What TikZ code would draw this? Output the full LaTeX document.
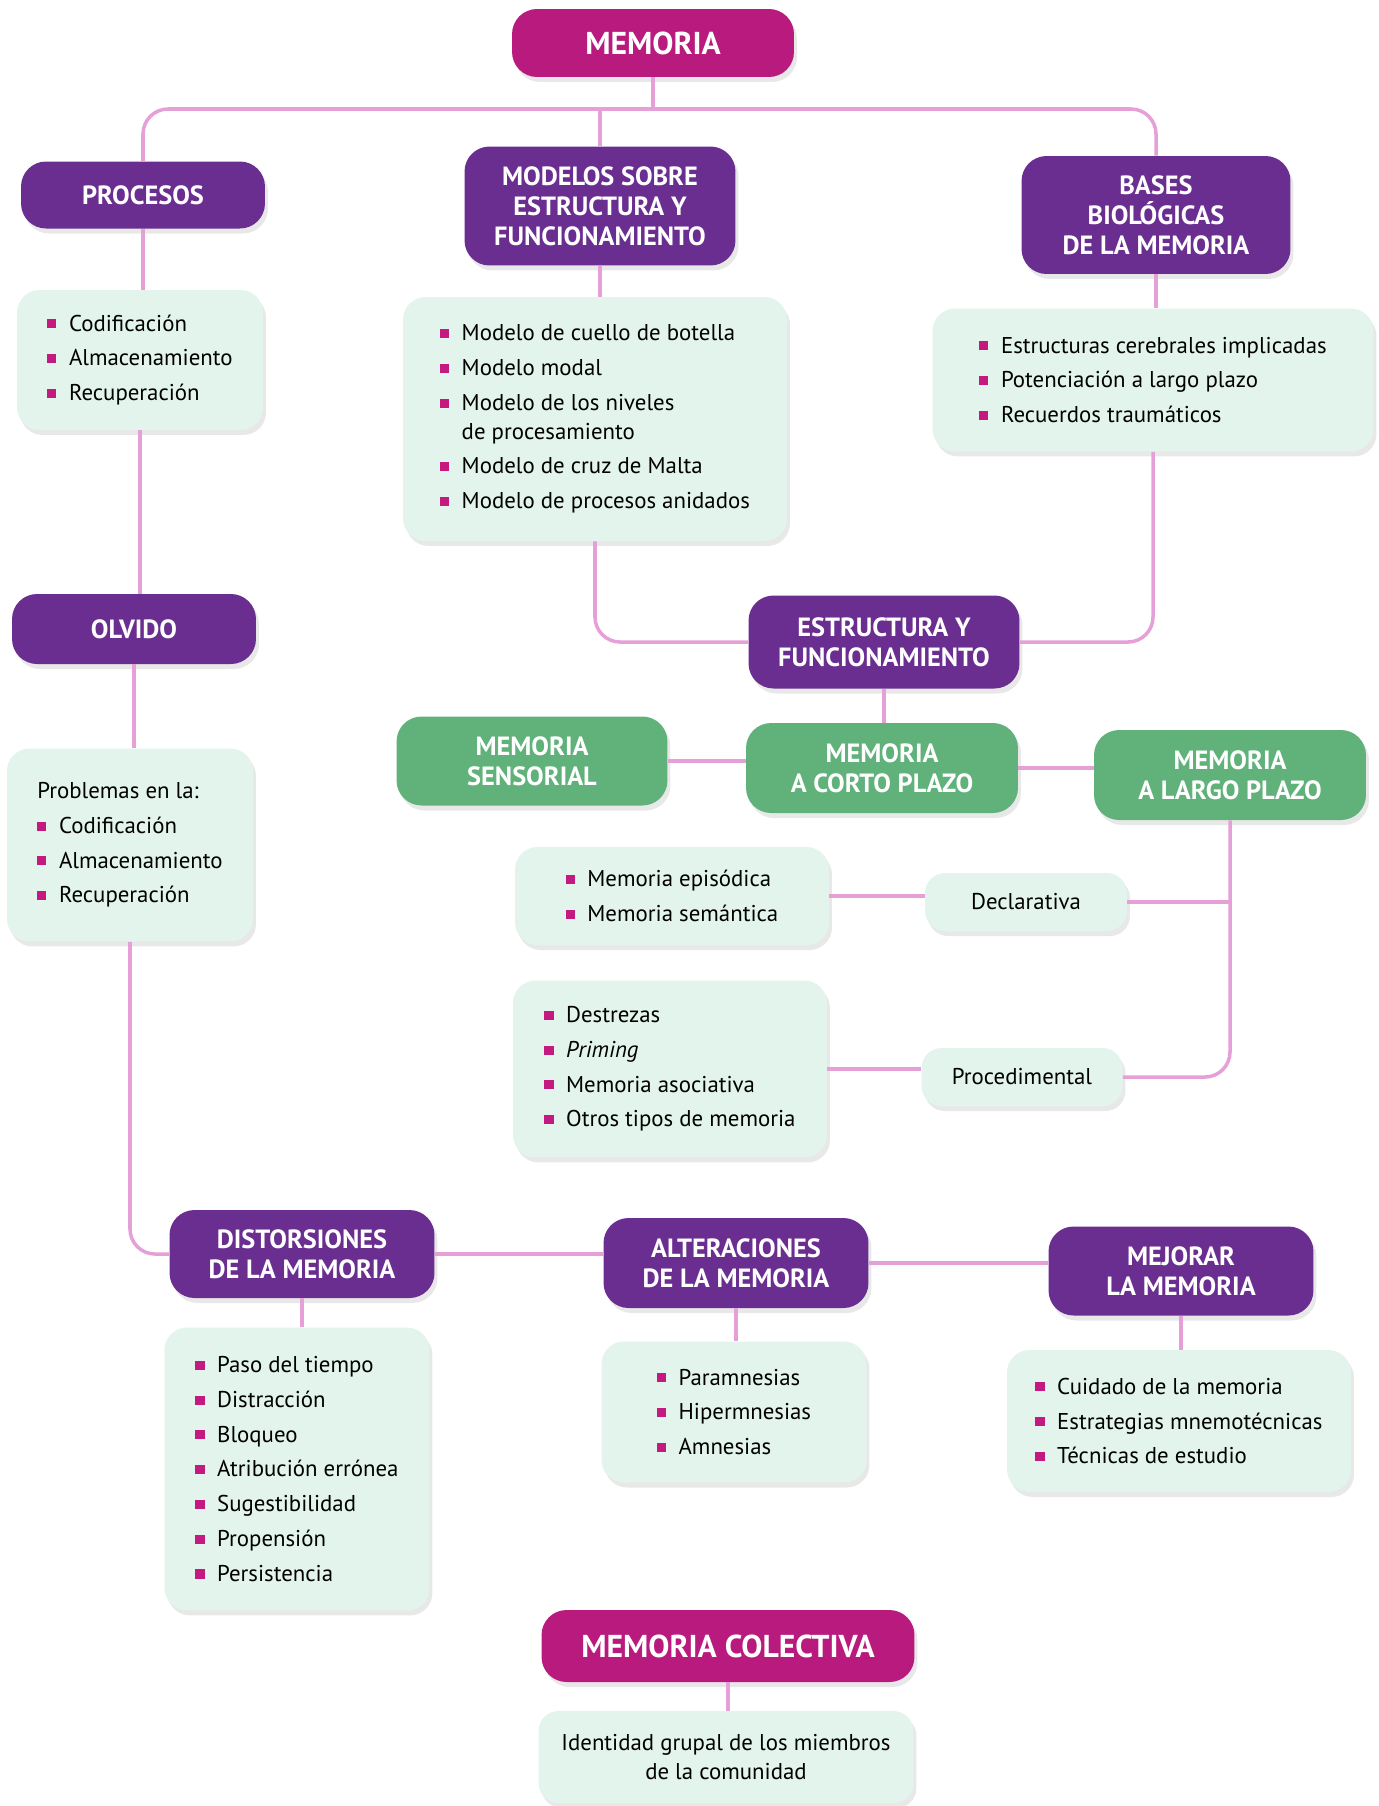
\documentclass[tikz,border=0pt]{standalone}
\usepackage{fontspec}
\setmainfont{PT Sans}
\usetikzlibrary{shadows}

\definecolor{memmag}{RGB}{184,26,126}
\definecolor{mempurple}{RGB}{106,46,145}
\definecolor{memgreen}{RGB}{96,178,122}
\definecolor{memmint}{RGB}{226,244,236}
\definecolor{memlink}{RGB}{230,160,216}
\definecolor{bulletmag}{RGB}{196,25,126}

\newcommand{\bul}{\textcolor{bulletmag}{\rule[0.12em]{0.4em}{0.4em}}\hspace{0.55em}}
\newcommand{\nob}{\phantom{\rule{0.4em}{0.4em}}\hspace{0.55em}}

\begin{document}
\begin{tikzpicture}[x=0.02cm, y=-0.02cm,
    boxshadow/.style={drop shadow={shadow xshift=0.06cm, shadow yshift=-0.1cm, opacity=0.18}},
    topbox/.style={rectangle, rounded corners=0.5cm, fill=memmag, text=white, boxshadow, align=center, font=\fontsize{18}{21}\selectfont\bfseries},
    headbox/.style={rectangle, rounded corners=0.5cm, fill=mempurple, text=white, boxshadow, align=center, font=\fontsize{15}{17}\selectfont\bfseries},
    greenbox/.style={rectangle, rounded corners=0.5cm, fill=memgreen, text=white, boxshadow, align=center, font=\fontsize{15}{17}\selectfont\bfseries},
    listbox/.style={rectangle, rounded corners=0.45cm, fill=memmint, boxshadow, align=left, font=\fontsize{13}{19.8}\selectfont},
    typebox/.style={rectangle, rounded corners=0.4cm, fill=memmint, boxshadow, align=center, font=\fontsize{13}{16}\selectfont},
    link/.style={draw=memlink, line width=2pt, rounded corners=0.5cm}]
    \useasboundingbox (0,0) rectangle (1379,1806);
    \node[topbox, minimum width=5.64cm, minimum height=1.36cm] (memoria) at (653,43) {MEMORIA};
    \node[headbox, minimum width=4.88cm, minimum height=1.34cm] (procesos) at (143,195) {PROCESOS};
    \node[headbox, minimum width=5.42cm, minimum height=2.38cm] (modelos) at (600,206) {MODELOS SOBRE\\ESTRUCTURA Y\\FUNCIONAMIENTO};
    \node[headbox, minimum width=5.38cm, minimum height=2.36cm] (bases) at (1156,215) {BASES\\BIOLÓGICAS\\DE LA MEMORIA};
    \node[listbox, minimum width=4.92cm, minimum height=2.8cm] (procList) at (140,360) {\bul Codificación\\ \bul Almacenamiento\\ \bul Recuperación};
    \node[listbox, minimum width=7.68cm, minimum height=4.88cm] (modList) at (595,419) {\bul Modelo de cuello de botella\\ \bul Modelo modal\\ \bul Modelo de los niveles\\[-3.5pt] \nob de procesamiento\\ \bul Modelo de cruz de Malta\\ \bul Modelo de procesos anidados};
    \node[listbox, minimum width=8.82cm, minimum height=2.86cm] (basList) at (1153,380) {\bul Estructuras cerebrales implicadas\\ \bul Potenciación a largo plazo\\ \bul Recuerdos traumáticos};
    \node[headbox, minimum width=4.88cm, minimum height=1.4cm] (olvido) at (134,629) {OLVIDO};
    \node[headbox, minimum width=5.42cm, minimum height=1.86cm] (estructura) at (884,642) {ESTRUCTURA Y\\FUNCIONAMIENTO};
    \node[greenbox, minimum width=5.42cm, minimum height=1.78cm] (sensorial) at (532,761) {MEMORIA\\SENSORIAL};
    \node[greenbox, minimum width=5.44cm, minimum height=1.8cm] (corto) at (882,768) {MEMORIA\\A CORTO PLAZO};
    \node[greenbox, minimum width=5.44cm, minimum height=1.8cm] (largo) at (1230,775) {MEMORIA\\A LARGO PLAZO};
    \node[listbox, minimum width=4.92cm, minimum height=3.86cm] (probList) at (130,845) {Problemas en la:\\ \bul Codificación\\ \bul Almacenamiento\\ \bul Recuperación};
    \node[listbox, minimum width=6.28cm, minimum height=1.96cm] (episList) at (672,896) {\bul Memoria episódica\\ \bul Memoria semántica};
    \node[typebox, minimum width=4.04cm, minimum height=1.16cm] (declarativa) at (1026,902) {Declarativa};
    \node[listbox, minimum width=6.28cm, minimum height=3.54cm] (procedList) at (670,1069) {\bul Destrezas\\ \bul \textit{Priming}\\ \bul Memoria asociativa\\ \bul Otros tipos de memoria};
    \node[typebox, minimum width=4.02cm, minimum height=1.16cm] (procedimental) at (1022,1077) {Procedimental};
    \node[headbox, minimum width=5.3cm, minimum height=1.76cm] (distorsiones) at (302,1254) {DISTORSIONES\\DE LA MEMORIA};
    \node[headbox, minimum width=5.3cm, minimum height=1.8cm] (alteraciones) at (736,1263) {ALTERACIONES\\DE LA MEMORIA};
    \node[headbox, minimum width=5.3cm, minimum height=1.78cm] (mejorar) at (1181,1271) {MEJORAR\\LA MEMORIA};
    \node[listbox, minimum width=5.3cm, minimum height=5.66cm] (distList) at (297,1469) {\bul Paso del tiempo\\ \bul Distracción\\ \bul Bloqueo\\ \bul Atribución errónea\\ \bul Sugestibilidad\\ \bul Propensión\\ \bul Persistencia};
    \node[listbox, minimum width=5.3cm, minimum height=2.82cm] (altList) at (734,1412) {\bul Paramnesias\\ \bul Hipermnesias\\ \bul Amnesias};
    \node[listbox, minimum width=6.88cm, minimum height=2.84cm] (mejList) at (1179,1421) {\bul Cuidado de la memoria\\ \bul Estrategias mnemotécnicas\\ \bul Técnicas de estudio};
    \node[topbox, minimum width=7.46cm, minimum height=1.44cm] (colectiva) at (728,1646) {MEMORIA COLECTIVA};
    \node[typebox, minimum width=7.5cm, minimum height=1.84cm] (identidad) at (726,1757) {Identidad grupal de los miembros\\de la comunidad};
    \coordinate (topbar) at (653,109);
    \draw[link] (memoria) -- (topbar);
    \draw[link] (procesos.north) |- (topbar) -| (bases.north);
    \draw[link] (modelos.north) -- (modelos.north |- topbar);
    \draw[link] (procesos.south) -- (procesos.south |- procList.north);
    \draw[link] (modelos.south) -- (modelos.south |- modList.north);
    \draw[link] (bases.south) -- (bases.south |- basList.north);
    \draw[link] (procList.south) -- (procList.south |- olvido.north);
    \draw[link] (olvido.south) -- (olvido.south |- probList.north);
    \draw[link] (modList.south) |- (estructura.west);
    \draw[link] (basList.south) |- (estructura.east);
    \draw[link] (estructura.south) -- (estructura.south |- corto.north);
    \draw[link] (sensorial.east) -- (sensorial.east -| corto.west);
    \draw[link] (corto.east) -- (corto.east -| largo.west);
    \draw[link] (episList.east) -- (episList.east -| declarativa.west);
    \draw[link] (procedList.east) -- (procedList.east -| procedimental.west);
    \draw[link] (largo.south) |- (procedimental.east);
    \draw[link] (declarativa.east) -- (declarativa.east -| largo.south);
    \draw[link] (probList.south) |- (distorsiones.west);
    \draw[link] (distorsiones.east) -- (distorsiones.east -| alteraciones.west);
    \draw[link] (alteraciones.east) -- (alteraciones.east -| mejorar.west);
    \draw[link] (distorsiones.south) -- (distorsiones.south |- distList.north);
    \draw[link] (alteraciones.south) -- (alteraciones.south |- altList.north);
    \draw[link] (mejorar.south) -- (mejorar.south |- mejList.north);
    \draw[link] (colectiva.south) -- (colectiva.south |- identidad.north);
\end{tikzpicture}
\end{document}
